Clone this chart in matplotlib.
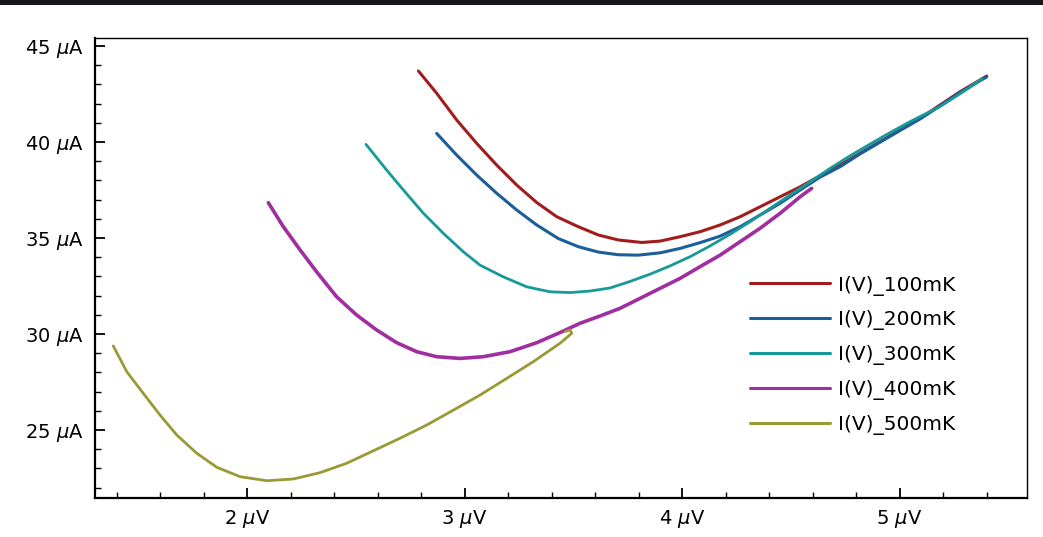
import matplotlib
matplotlib.use("Agg")
import matplotlib.pyplot as plt
from matplotlib.patches import Rectangle

# ---- data (V in µV, I in µA) ----
v_100 = [2.788, 2.872, 2.964, 3.056, 3.148, 3.240, 3.332, 3.424, 3.523, 3.615, 3.707, 3.815,
         3.899, 3.991, 4.083, 4.175, 4.267, 4.359, 4.451, 4.543, 4.634, 4.726, 4.818, 4.910,
         5.002, 5.094, 5.186, 5.278, 5.401]
i_100 = [43.70, 42.54, 41.15, 39.93, 38.80, 37.76, 36.85, 36.11, 35.59, 35.16, 34.90, 34.77,
         34.84, 35.07, 35.33, 35.68, 36.11, 36.63, 37.15, 37.67, 38.24, 38.80, 39.41, 40.02,
         40.63, 41.23, 41.93, 42.62, 43.44]

v_200 = [2.872, 2.964, 3.056, 3.148, 3.240, 3.332, 3.430, 3.523, 3.615, 3.707, 3.799, 3.899,
         3.991, 4.083, 4.175, 4.267, 4.359, 4.451, 4.543, 4.634, 4.726, 4.818, 4.910, 5.002,
         5.094, 5.186, 5.278, 5.401]
i_200 = [40.45, 39.32, 38.28, 37.33, 36.46, 35.68, 34.98, 34.55, 34.27, 34.13, 34.11, 34.23,
         34.46, 34.76, 35.10, 35.59, 36.20, 36.81, 37.50, 38.17, 38.71, 39.38, 39.99, 40.60,
         41.20, 41.88, 42.57, 43.40]

v_300 = [2.547, 2.642, 2.719, 2.811, 2.903, 2.994, 3.071, 3.178, 3.286, 3.393, 3.485, 3.577,
         3.669, 3.761, 3.853, 3.945, 4.037, 4.129, 4.221, 4.313, 4.405, 4.497, 4.589, 4.681,
         4.772, 4.864, 4.956, 5.048, 5.186, 5.301, 5.379]
i_300 = [39.88, 38.54, 37.50, 36.29, 35.24, 34.29, 33.59, 32.98, 32.46, 32.20, 32.16, 32.24,
         32.40, 32.74, 33.12, 33.55, 34.03, 34.59, 35.20, 35.85, 36.55, 37.24, 37.93, 38.63,
         39.28, 39.89, 40.49, 41.06, 41.85, 42.68, 43.30]

v_400 = [2.098, 2.167, 2.244, 2.320, 2.412, 2.504, 2.596, 2.688, 2.780, 2.872, 2.979, 3.086,
         3.209, 3.332, 3.447, 3.531, 3.623, 3.715, 3.807, 3.899, 3.991, 4.083, 4.175, 4.267,
         4.359, 4.451, 4.543, 4.596]
i_400 = [36.84, 35.59, 34.38, 33.24, 31.94, 30.99, 30.21, 29.55, 29.08, 28.82, 28.73, 28.82,
         29.08, 29.55, 30.12, 30.56, 30.94, 31.34, 31.86, 32.38, 32.90, 33.51, 34.11, 34.81,
         35.51, 36.29, 37.15, 37.59]

v_500 = [1.385, 1.447, 1.523, 1.600, 1.677, 1.769, 1.861, 1.968, 2.091, 2.213, 2.336, 2.458,
         2.581, 2.703, 2.826, 2.949, 3.071, 3.194, 3.316, 3.439, 3.493, 3.485, 3.462]
i_500 = [29.38, 28.04, 26.91, 25.78, 24.74, 23.79, 23.06, 22.57, 22.36, 22.45, 22.78, 23.27,
         23.92, 24.57, 25.26, 26.04, 26.82, 27.69, 28.56, 29.52, 30.04, 30.21, 30.13]

labels = ["I(V)_100mK", "I(V)_200mK", "I(V)_300mK", "I(V)_400mK", "I(V)_500mK"]
colors = ["#a11d1d", "#1a5e9a", "#17999a", "#a02ea0", "#9a9a35"]
widths = [2.2, 2.2, 2.0, 2.6, 2.0]

x_ticks = [2, 3, 4, 5]
x_ticklabels = [r"2 $\mu$V", r"3 $\mu$V", r"4 $\mu$V", r"5 $\mu$V"]
y_ticks = [25, 30, 35, 40, 45]
y_ticklabels = [r"25 $\mu$A", r"30 $\mu$A", r"35 $\mu$A", r"40 $\mu$A", r"45 $\mu$A"]

plt.rcParams["font.family"] = ["DejaVu Sans"]
plt.rcParams["mathtext.fontset"] = "dejavusans"

fig = plt.figure(figsize=(10.43, 5.37), dpi=100)
fig.patches.append(Rectangle((0, 1 - 5 / 537), 1, 5 / 537, transform=fig.transFigure,
                             facecolor="#15171c", edgecolor="none", zorder=10))
ax = fig.add_axes([95 / 1043, 1 - 498 / 537, (1027 - 95) / 1043, (498 - 38) / 537])

series = [(v_100, i_100), (v_200, i_200), (v_300, i_300), (v_400, i_400), (v_500, i_500)]
for (v, i), lab, c, w in zip(series, labels, colors, widths):
    ax.plot(v, i, color=c, lw=w, label=lab, solid_capstyle="round", solid_joinstyle="round")

ax.set_xlim(1.301, 5.586)
ax.set_ylim(21.46, 45.42)
ax.set_xticks(x_ticks)
ax.set_xticklabels(x_ticklabels)
ax.set_yticks(y_ticks)
ax.set_yticklabels(y_ticklabels)
ax.set_xticks([x / 10 for x in range(14, 56, 2)], minor=True)
ax.set_yticks(list(range(22, 46)), minor=True)

ax.tick_params(which="both", direction="in", top=False, right=False, labelsize=14)
ax.tick_params(which="major", length=7, width=1.3)
ax.tick_params(which="minor", length=4, width=1.0)
ax.tick_params(axis="x", which="major", pad=7)
ax.tick_params(axis="y", which="major", pad=8)

for s in ["left", "bottom"]:
    ax.spines[s].set_linewidth(1.6)
for s in ["top", "right"]:
    ax.spines[s].set_linewidth(1.0)

leg = ax.legend(loc="upper left", bbox_to_anchor=(0.683, 0.523), frameon=False,
                fontsize=14.5, handlelength=4.0, labelspacing=0.74, handletextpad=0.4)
for line in leg.get_lines():
    line.set_linewidth(2.2)

fig.savefig("out.png", dpi=100)
